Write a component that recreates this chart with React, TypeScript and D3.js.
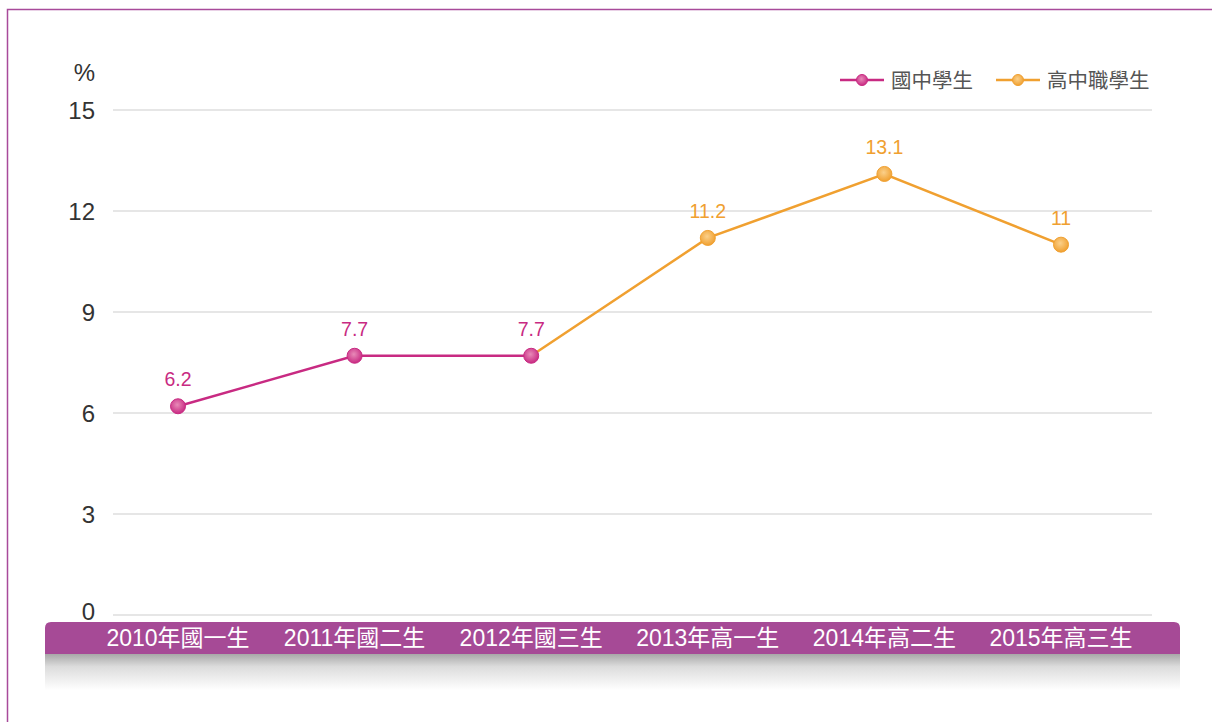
import React from "react";
import * as d3 from "d3";

const categories = ["2010年國一生", "2011年國二生", "2012年國三生", "2013年高一生", "2014年高二生", "2015年高三生"];
const juniorValues: (number | null)[] = [6.2, 7.7, 7.7, null, null, null];
const seniorValues: (number | null)[] = [null, null, 7.7, 11.2, 13.1, 11];
const seniorLabelShown = [false, false, false, true, true, true];
const yTicks = [0, 3, 6, 9, 12, 15];
const seriesNames = ["國中學生", "高中職學生"];

const MAGENTA = "#c82a82";
const ORANGE = "#f0a030";
const FONT = "Arial, 'Liberation Sans', 'Noto Sans CJK TC', sans-serif";

export default function App() {
  const W = 1212, H = 722;
  const x = d3.scalePoint<string>().domain(categories).range([178, 1061]);
  const y = d3.scaleLinear().domain([0, 15]).range([615, 110]);
  const line = d3.line<[string, number | null]>()
    .defined((d) => d[1] !== null)
    .x((d) => x(d[0])!)
    .y((d) => y(d[1] as number));
  const jData = categories.map((c, i) => [c, juniorValues[i]] as [string, number | null]);
  const sData = categories.map((c, i) => [c, seniorValues[i]] as [string, number | null]);

  return (
    <svg width={W} height={H} style={{ position: "absolute", left: 0, top: 0, fontFamily: FONT }}>
      <defs>
        <radialGradient id="gM" cx="45%" cy="40%" r="60%">
          <stop offset="0%" stopColor="#e88ab8" />
          <stop offset="100%" stopColor={MAGENTA} />
        </radialGradient>
        <radialGradient id="gO" cx="45%" cy="40%" r="60%">
          <stop offset="0%" stopColor="#fbd08a" />
          <stop offset="100%" stopColor={ORANGE} />
        </radialGradient>
        <linearGradient id="shadow" x1="0" y1="0" x2="0" y2="1">
          <stop offset="0%" stopColor="#a8a8a8" />
          <stop offset="35%" stopColor="#dcdcdc" />
          <stop offset="100%" stopColor="#ffffff" />
        </linearGradient>
      </defs>
      <rect x={0} y={0} width={W} height={H} fill="#fff" />
      <rect x={7.5} y={9.5} width={W + 20} height={H + 20} fill="none" stroke="#a84a9a" strokeWidth={1.5} />

      {yTicks.map((t) => (
        <g key={t}>
          <line x1={113} x2={1152} y1={y(t)} y2={y(t)} stroke="#dedede" strokeWidth={1.5} />
          <text x={95} y={Math.min(y(t) + 9, 620)} textAnchor="end" fontSize={24} fill="#333">{t}</text>
        </g>
      ))}
      <text x={95} y={81} textAnchor="end" fontSize={24} fill="#333">%</text>

      <path d="M45,654 L1180,654 L1180,690 L45,690 Z" fill="url(#shadow)" />
      <path d="M45,654 L45,628 Q45,622 51,622 L1174,622 Q1180,622 1180,628 L1180,654 Z" fill="#a64a96" />
      {categories.map((c) => (
        <text key={c} x={x(c)!} y={646} textAnchor="middle" fontSize={23} fill="#fff">{c}</text>
      ))}

      <path d={line(sData)!} fill="none" stroke={ORANGE} strokeWidth={2.5} />
      <path d={line(jData)!} fill="none" stroke={MAGENTA} strokeWidth={2.5} />

      {sData.map(([c, v], i) => v !== null && seniorLabelShown[i] ? (
        <g key={"s" + c}>
          <circle cx={x(c)!} cy={y(v)} r={7.5} fill="url(#gO)" stroke={ORANGE} strokeWidth={1} />
          <text x={x(c)!} y={y(v) - 20} textAnchor="middle" fontSize={19.5} fill={ORANGE}>{v}</text>
        </g>
      ) : null)}
      {jData.map(([c, v]) => v !== null ? (
        <g key={"j" + c}>
          <circle cx={x(c)!} cy={y(v)} r={7.5} fill="url(#gM)" stroke={MAGENTA} strokeWidth={1} />
          <text x={x(c)!} y={y(v) - 20} textAnchor="middle" fontSize={19.5} fill={MAGENTA}>{v}</text>
        </g>
      ) : null)}

      <g>
        <line x1={840} x2={884} y1={80} y2={80} stroke={MAGENTA} strokeWidth={2.5} />
        <circle cx={862} cy={80} r={5.5} fill="url(#gM)" stroke={MAGENTA} />
        <text x={891} y={88} fontSize={20.5} fill="#555">{seriesNames[0]}</text>
        <line x1={996} x2={1040} y1={80} y2={80} stroke={ORANGE} strokeWidth={2.5} />
        <circle cx={1018} cy={80} r={5.5} fill="url(#gO)" stroke={ORANGE} />
        <text x={1047} y={88} fontSize={20.5} fill="#555">{seriesNames[1]}</text>
      </g>
    </svg>
  );
}
